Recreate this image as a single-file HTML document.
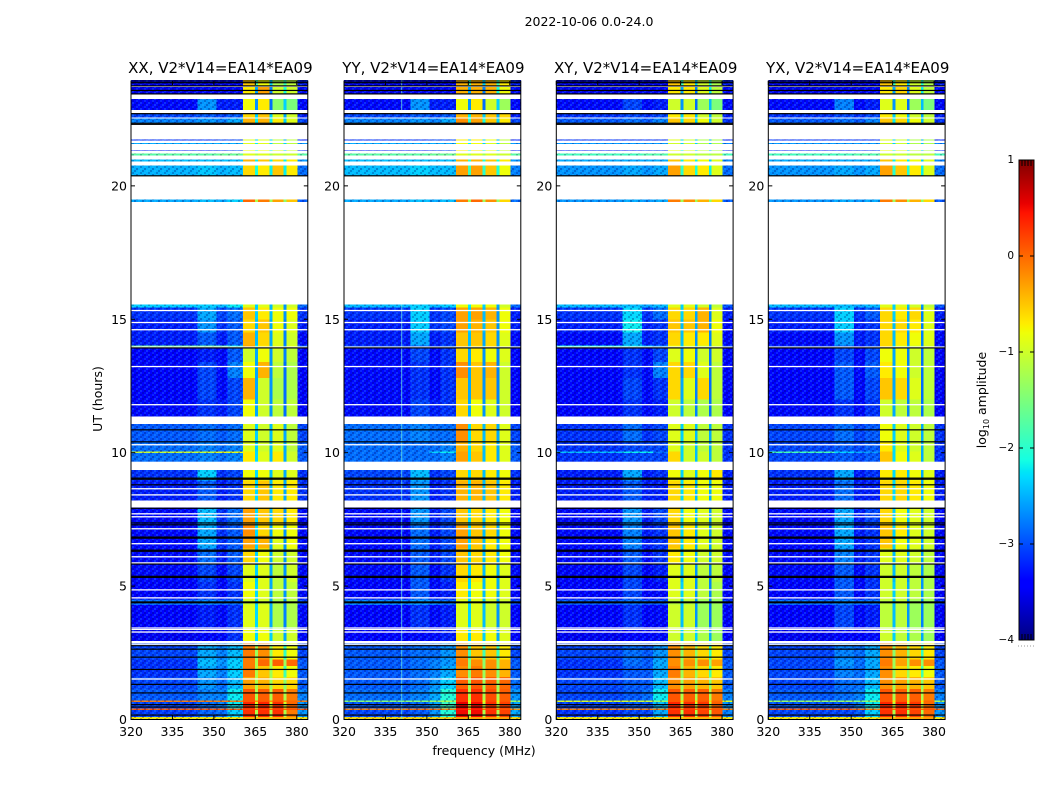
<!DOCTYPE html>
<html lang="en">
<head>
<meta charset="utf-8">
<title>2022-10-06 0.0-24.0</title>
<style>
html,body{margin:0;padding:0;background:#fff}
svg{display:block}
text{font-family:"DejaVu Sans","Liberation Sans",sans-serif;fill:#000}
</style>
</head>
<body>
<svg id="figure" xmlns="http://www.w3.org/2000/svg" width="1050" height="800" viewBox="0 0 1050 800">
<defs>
<pattern id="speckle" width="8" height="6" patternUnits="userSpaceOnUse">
<rect x="0" y="0" width="2" height="2" fill="#000060" opacity=".3"/>
<rect x="4" y="0" width="2" height="2" fill="#40d0ff" opacity=".2"/>
<rect x="2" y="2" width="2" height="2" fill="#40d0ff" opacity=".22"/>
<rect x="6" y="2" width="2" height="2" fill="#000060" opacity=".28"/>
<rect x="0" y="4" width="2" height="2" fill="#40d0ff" opacity=".16"/>
<rect x="4" y="4" width="2" height="2" fill="#000060" opacity=".25"/>
</pattern>
<linearGradient id="jet-gradient" x1="0" y1="1" x2="0" y2="0"></linearGradient>
</defs>
<text x="589" y="26" font-size="12.5" text-anchor="middle">2022-10-06 0.0-24.0</text>
<text x="484" y="755" font-size="12.5" text-anchor="middle">frequency (MHz)</text>
<text x="102" y="399" font-size="12.5" text-anchor="middle" transform="rotate(-90 102 399)">UT (hours)</text>
<text x="986" y="400" font-size="12.5" text-anchor="middle" transform="rotate(-90 986 400)">log<tspan font-size="8" dy="3">10</tspan><tspan dy="-3"> amplitude</tspan></text>
<g id="panels"></g>
<g id="colorbar"></g>
</svg>
<script>
// ---- data ----
const panelNames = ["XX", "YY", "XY", "YX"];
const baselineLabel = "V2*V14=EA14*EA09";
const xTickValues = [320, 335, 350, 365, 380];
const yTickValues = [0, 5, 10, 15, 20];
const colorbarTicks = [1, 0, -1, -2, -3, -4];

// frequency channel-group edges (MHz)
const freqEdges = [320, 344, 351, 355, 360.5, 364.9, 366, 370.2, 371.2, 375.2, 376.2, 380.2, 384];
// time sample ranges (UT hours)
const rowStarts = [0, 0.1, 0.35, 0.42, 0.65, 0.72, 1.15, 1.6, 2, 2.25, 2.95, 3.4, 4.3, 4.5, 5.15, 5.8, 6.4, 6.9, 7.3, 8.2, 8.95, 9.62, 9.98, 10.04, 10.4, 11.35, 12, 12.8, 13.4, 13.95, 14.02, 14.5, 15, 15.45, 19.39, 20.39, 20.92, 21.13, 21.3, 21.56, 21.7, 22.35, 22.57, 22.84, 23.46, 23.73];
const rowEnds = [0.1, 0.35, 0.42, 0.65, 0.72, 1.15, 1.6, 2, 2.25, 2.85, 3.35, 4.3, 4.5, 5.15, 5.8, 6.4, 6.9, 7.3, 7.95, 8.95, 9.35, 9.98, 10.04, 10.4, 11.08, 12, 12.8, 13.4, 13.95, 14.02, 14.5, 15, 15.45, 15.55, 19.49, 20.77, 20.99, 21.22, 21.33, 21.6, 21.74, 22.53, 22.69, 23.25, 23.7, 23.97];

// log10 amplitude, one row per time range, one value per channel group
const levelsXX = [
[-0.7,-0.7,-0.7,-0.7,-0.4,-0.5,-0.4,-0.5,-0.4,-0.5,-0.4,-0.7],
[-3.1,-2.9,-2.85,-2.35,0.3,-1.2,0.3,-1.2,0.3,-1.2,-0.1,-2.65],
[0.1,0.1,0.1,0.1,0.2,0,0.2,0,0.2,0,0.1,0.1],
[-3.05,-2.85,-2.75,-2.2,0.35,-1,0.35,-1,0.3,-1,0,-2.65],
[-0.1,-0.1,-0.1,-0.1,0.1,-0.2,0.1,-0.2,0.1,-0.2,0,-0.1],
[-2.95,-2.75,-2.75,-2.2,0.1,-1.2,0.05,-1.2,0.05,-1.2,-0.1,-2.75],
[-3.05,-2.65,-2.85,-2.45,-0.3,-1.2,-0.4,-1.3,-0.6,-1.4,-0.6,-2.95],
[-3.15,-2.55,-2.75,-2.35,-0.1,-1.2,-0.5,-1.3,-0.7,-1.85,-0.8,-2.95],
[-3.15,-2.45,-2.65,-2.35,-0.1,-1.2,0,-1.2,0.05,-1.3,0,-2.95],
[-3.05,-2.55,-2.75,-2.45,-0.1,-1.3,-0.2,-1.4,-0.7,-1.95,-0.8,-3.05],
[-3.5,-3.4,-3.35,-3.15,-0.8,-2.3,-0.8,-2.35,-1.0,-2.55,-1.0,-3.35],
[-3.4,-3.25,-3.35,-3.15,-0.9,-2.3,-0.9,-2.55,-1.2,-2.75,-1.2,-3.35],
[-2.85,-2.75,-2.85,-2.85,-1.0,-2.35,-1.0,-2.55,-1.2,-2.75,-1.2,-3.05],
[-3.4,-3.15,-3.35,-3.15,-0.8,-2.3,-0.9,-2.55,-1.1,-2.65,-1.1,-3.35],
[-3.35,-3.05,-3.35,-3.05,-0.9,-2.35,-0.9,-2.55,-1.1,-2.65,-1.0,-3.35],
[-3.35,-2.85,-3.25,-2.95,-0.6,-2.35,-0.8,-2.55,-1.0,-2.65,-1.0,-3.35],
[-3.35,-2.55,-3.15,-2.95,-0.3,-2.35,-0.4,-2.55,-0.9,-2.65,-0.8,-3.35],
[-3.35,-2.55,-3.15,-2.95,-0.2,-2.3,-0.6,-2.55,-0.8,-2.65,-0.8,-3.35],
[-3.35,-2.45,-3.15,-2.85,-0.3,-2.3,-0.5,-2.45,-0.6,-2.65,-0.7,-3.35],
[-3.25,-2.95,-3.25,-3.15,-0.6,-2.3,-0.5,-2.45,-0.7,-2.55,-0.7,-3.15],
[-3.15,-2.35,-3.15,-3.05,-0.8,-2.3,-0.8,-2.45,-0.9,-2.55,-0.9,-3.15],
[-2.85,-2.75,-2.85,-2.75,-0.7,-2.3,-0.9,-2.45,-0.7,-2.55,-1.0,-2.95],
[-1.0,-1.0,-0.8,-0.8,-0.7,-2.3,-0.9,-2.45,-0.7,-2.55,-1.0,-2.95],
[-2.85,-2.75,-2.85,-2.75,-0.9,-2.35,-1.0,-2.45,-0.9,-2.55,-1.1,-2.95],
[-2.95,-2.85,-2.95,-2.85,-0.9,-2.35,-1.0,-2.45,-0.9,-2.55,-1.1,-3.05],
[-3.35,-3.15,-3.25,-3.05,-0.8,-2.55,-1.0,-2.65,-1.1,-2.85,-1.1,-3.4],
[-3.4,-3.05,-3.35,-3.05,-0.4,-2.55,-1.0,-2.65,-1.2,-2.85,-1.2,-3.4],
[-3.4,-3.05,-3.35,-2.75,-0.8,-2.55,-0.4,-2.65,-1.1,-2.85,-1.2,-3.4],
[-3.4,-3.25,-3.35,-2.95,-1.0,-2.55,-0.8,-2.65,-1.0,-2.75,-1.1,-3.4],
[-1.6,-1.6,-1.7,-2.1,-0.3,-2.1,-0.7,-2.45,-0.9,-2.65,-0.9,-2.85],
[-3.25,-2.95,-3.25,-2.95,-0.4,-2.45,-0.6,-2.55,-0.9,-2.75,-1.0,-3.35],
[-3.25,-2.65,-3.15,-2.95,-0.6,-2.45,-0.5,-2.55,-0.8,-2.75,-0.9,-3.25],
[-3.15,-2.55,-3.05,-2.85,-0.5,-2.35,-0.7,-2.45,-0.8,-2.65,-0.8,-3.15],
[-2.35,-2.35,-2.45,-2.2,-0.9,-2.35,-0.9,-2.45,-1.0,-2.65,-1.0,-2.85],
[-2.55,-2.45,-2.55,-2.35,0,-1.2,-0.1,-1.3,-0.3,-1.4,-0.5,-2.95],
[-2.5,-2.4,-2.5,-2.45,-0.6,-2.1,-0.7,-2.2,-0.5,-2.2,-0.7,-2.85],
[-2.45,-2.45,-2.45,-2.45,-0.4,-2.2,-0.5,-2.2,-0.6,-2.2,-0.7,-2.65],
[-1.7,-1.7,-1.6,-1.6,-0.9,-1.2,-0.9,-1.3,-1.0,-1.2,-1.0,-1.7],
[-3.25,-3.25,-3.15,-3.05,-0.8,-2.1,-0.8,-2.2,-0.9,-2.35,-1.0,-3.25],
[-2.55,-2.55,-2.55,-2.55,-0.9,-2.2,-0.9,-2.35,-1.1,-2.35,-1.1,-2.65],
[-3.15,-3.15,-3.05,-3.05,-0.9,-2.35,-0.9,-2.35,-1.1,-2.55,-1.1,-3.25],
[-2.75,-2.65,-2.75,-2.55,-0.4,-2.2,-0.4,-2.2,-0.7,-2.35,-0.9,-3.05],
[-3.05,-2.95,-3.05,-2.95,-0.6,-2.35,-0.5,-2.35,-0.9,-2.55,-1.0,-3.25],
[-3.35,-2.65,-3.25,-3.25,-0.8,-2.65,-0.7,-2.85,-1.4,-2.35,-1.5,-3.35],
[-3.5,-3.4,-3.5,-3.4,-0.7,-2.55,-0.3,-2.75,-1.0,-2.1,-1.0,-3.35],
[-3.5,-3.5,-3.5,-3.4,-0.5,-1.85,-0.8,-2.35,-1.2,-1.9,-1.1,-3.25]
];
const levelsYY = [
[-0.6,-0.6,-0.6,-0.6,-0.3,-0.5,-0.3,-0.5,-0.3,-0.5,-0.3,-0.6],
[-3.05,-2.95,-2.65,-2.05,0.5,-1.2,0.5,-1.2,0.3,-1.2,0.2,-2.55],
[-0.1,0,0,-0.1,0.4,0,0.4,0,0.2,0,0.1,-0.2],
[-2.95,-2.85,-2.55,-1.9,0.55,-1.1,0.5,-1.1,0.3,-1.1,0.2,-2.55],
[-1.4,-1.4,-1.3,-1.2,0.3,-0.8,0.3,-0.8,0.2,-0.8,0.1,-1.3],
[-2.85,-2.75,-2.55,-2.05,0.3,-1.2,0.3,-1.2,0.15,-1.2,0.05,-2.65],
[-2.95,-2.85,-2.65,-2.35,0.05,-1.3,0.1,-1.3,0.05,-1.3,0,-2.85],
[-2.95,-2.85,-2.75,-2.55,-0.2,-1.4,-0.1,-1.3,-0.2,-1.4,-0.4,-2.95],
[-2.95,-2.85,-2.75,-2.65,-0.1,-1.4,-0.2,-1.4,-0.2,-1.4,-0.4,-2.95],
[-2.95,-2.85,-2.85,-2.65,-0.2,-1.85,-0.5,-1.85,-0.5,-1.95,-0.7,-3.05],
[-3.4,-3.35,-3.35,-3.25,-0.7,-2.35,-0.7,-2.35,-0.8,-2.55,-0.9,-3.4],
[-3.4,-3.15,-3.35,-3.25,-0.9,-2.35,-0.9,-2.45,-1.0,-2.65,-1.0,-3.4],
[-2.75,-2.65,-2.75,-2.85,-0.9,-2.35,-0.9,-2.45,-1.0,-2.55,-1.0,-3.05],
[-3.4,-2.95,-3.35,-3.25,-0.7,-2.35,-0.8,-2.45,-0.8,-2.55,-0.9,-3.4],
[-3.35,-2.95,-3.35,-3.15,-0.6,-2.35,-0.7,-2.45,-0.8,-2.55,-0.9,-3.35],
[-3.35,-2.95,-3.25,-3.05,-0.5,-2.35,-0.6,-2.45,-0.7,-2.55,-0.8,-3.35],
[-3.35,-2.85,-3.25,-3.05,-0.3,-2.35,-0.5,-2.45,-0.7,-2.55,-0.8,-3.35],
[-3.35,-2.85,-3.25,-3.05,-0.3,-2.3,-0.5,-2.45,-0.6,-2.55,-0.8,-3.35],
[-3.35,-2.65,-3.25,-3.05,-0.5,-2.3,-0.6,-2.45,-0.7,-2.55,-0.8,-3.35],
[-3.15,-2.65,-3.25,-3.15,-0.4,-2.3,-0.4,-2.45,-0.5,-2.55,-0.7,-3.25],
[-3.05,-2.45,-3.15,-3.05,-0.6,-2.3,-0.6,-2.45,-0.7,-2.55,-0.8,-3.15],
[-2.85,-2.85,-2.85,-2.75,-0.3,-2.3,-0.5,-2.45,-0.7,-2.55,-0.9,-2.95],
[-2.85,-2.85,-2.35,-2.2,-0.3,-2.3,-0.5,-2.45,-0.7,-2.55,-0.9,-2.95],
[-2.85,-2.85,-2.85,-2.75,-0.4,-2.3,-0.6,-2.45,-0.7,-2.55,-0.9,-2.95],
[-2.85,-2.75,-2.85,-2.85,-0.2,-2.3,-0.6,-2.45,-0.6,-2.55,-0.9,-3.05],
[-3.35,-3.05,-3.25,-3.15,-0.6,-2.55,-0.8,-2.65,-0.9,-2.75,-1.0,-3.4],
[-3.35,-3.15,-3.35,-3.15,-0.5,-2.55,-0.5,-2.65,-0.5,-2.75,-1.0,-3.4],
[-3.35,-3.15,-3.35,-3.15,-0.2,-2.55,-0.5,-2.65,-0.4,-2.75,-1.0,-3.4],
[-3.35,-3.05,-3.35,-3.15,-0.6,-2.55,-0.7,-2.65,-0.8,-2.75,-0.9,-3.4],
[-3.05,-2.95,-3.15,-2.95,-0.5,-2.35,-0.6,-2.45,-0.6,-2.65,-0.9,-3.15],
[-3.25,-2.55,-3.25,-3.15,-0.5,-2.45,-0.5,-2.55,-0.6,-2.65,-0.9,-3.35],
[-3.25,-2.35,-3.15,-3.05,-0.3,-2.35,-0.4,-2.45,-0.5,-2.65,-0.8,-3.25],
[-3.15,-2.35,-3.15,-3.05,-0.3,-2.35,-0.3,-2.45,-0.4,-2.65,-0.8,-3.25],
[-2.45,-2.35,-2.45,-2.35,-0.8,-2.2,-0.8,-2.35,-0.8,-2.55,-1.0,-2.85],
[-2.55,-2.45,-2.55,-2.45,-0.1,-1.3,0,-1.3,-0.2,-1.4,-0.6,-2.85],
[-2.45,-2.35,-2.45,-2.45,-0.3,-1.9,-0.3,-2.0,-0.5,-2.1,-0.8,-2.75],
[-2.45,-2.45,-2.45,-2.45,-0.4,-2.0,-0.4,-2.1,-0.5,-2.1,-0.7,-2.65],
[-1.7,-1.7,-1.6,-1.6,-0.9,-1.2,-0.9,-1.3,-0.9,-1.2,-1.0,-1.7],
[-3.25,-3.25,-3.15,-3.05,-0.7,-2.1,-0.7,-2.2,-0.8,-2.35,-1.0,-3.25],
[-2.55,-2.55,-2.55,-2.55,-0.8,-2.2,-0.8,-2.35,-0.9,-2.35,-1.1,-2.65],
[-3.15,-3.15,-3.05,-3.05,-0.7,-2.35,-0.7,-2.35,-0.8,-2.55,-1.1,-3.25],
[-2.75,-2.65,-2.75,-2.55,-0.2,-2.0,-0.3,-2.1,-0.5,-2.35,-0.7,-3.05],
[-3.05,-2.95,-3.05,-2.95,-0.4,-2.2,-0.4,-2.35,-0.5,-2.55,-0.6,-3.25],
[-3.35,-2.65,-3.25,-3.25,-0.8,-2.65,-0.7,-2.85,-1.0,-2.35,-1.3,-3.35],
[-3.5,-3.4,-3.5,-3.4,-0.4,-2.55,-0.4,-2.75,-0.4,-2.1,-0.8,-3.35],
[-3.5,-3.5,-3.5,-3.4,-0.4,-1.85,-0.4,-2.35,-0.4,-1.9,-0.7,-3.25]
];
const levelsXY = [
[-0.7,-0.7,-0.7,-0.7,-0.4,-0.5,-0.4,-0.5,-0.4,-0.5,-0.4,-0.7],
[-3.15,-3.05,-3.05,-2.55,0.3,-1.2,0.3,-1.2,0.2,-1.2,0.1,-2.75],
[-0.1,-0.1,-0.1,-0.1,0.2,0,0.2,0,0.1,0,0.1,-0.1],
[-3.05,-2.95,-2.95,-2.45,0.35,-1.1,0.3,-1.1,0.25,-1.1,0.05,-2.65],
[-0.9,-0.9,-1.0,-1.3,0.1,-0.6,0.1,-0.6,0.1,-0.6,0,-0.9],
[-3.05,-2.95,-2.85,-2.2,0.1,-1.2,0.05,-1.2,0.05,-1.2,-0.1,-2.75],
[-3.05,-2.95,-2.95,-2.45,-0.2,-1.3,-0.3,-1.3,-0.4,-1.4,-0.5,-2.95],
[-3.15,-2.95,-2.95,-2.55,-0.1,-1.3,-0.4,-1.3,-0.6,-1.85,-0.7,-2.95],
[-3.15,-2.85,-2.95,-2.55,-0.2,-1.3,-0.2,-1.3,-0.2,-1.4,-0.3,-2.95],
[-3.05,-2.85,-2.95,-2.65,-0.2,-1.4,-0.4,-1.4,-0.6,-1.95,-0.7,-3.05],
[-3.5,-3.4,-3.4,-3.35,-1.0,-2.35,-1.0,-2.35,-1.2,-2.55,-1.3,-3.4],
[-3.4,-3.15,-3.4,-3.35,-1.0,-2.45,-1.0,-2.65,-1.3,-2.85,-1.3,-3.4],
[-2.95,-2.85,-2.95,-2.95,-1.1,-2.45,-1.1,-2.65,-1.3,-2.85,-1.3,-3.15],
[-3.4,-3.05,-3.4,-3.35,-0.9,-2.35,-0.9,-2.65,-1.1,-2.75,-1.2,-3.4],
[-3.4,-3.05,-3.4,-3.25,-0.9,-2.45,-0.9,-2.65,-1.1,-2.75,-1.1,-3.4],
[-3.35,-2.95,-3.35,-3.15,-0.7,-2.45,-0.8,-2.55,-1.0,-2.65,-1.0,-3.35],
[-3.35,-2.75,-3.25,-3.15,-0.5,-2.35,-0.7,-2.55,-0.9,-2.65,-1.0,-3.35],
[-3.35,-2.75,-3.25,-3.15,-0.5,-2.35,-0.7,-2.55,-0.9,-2.65,-1.0,-3.35],
[-3.35,-2.65,-3.25,-3.05,-0.6,-2.35,-0.8,-2.45,-0.9,-2.65,-1.0,-3.35],
[-3.25,-2.95,-3.25,-3.25,-0.6,-2.3,-0.7,-2.45,-0.8,-2.55,-0.8,-3.25],
[-3.25,-2.55,-3.25,-3.15,-0.8,-2.35,-0.9,-2.45,-0.8,-2.55,-0.7,-3.25],
[-3.15,-3.05,-3.05,-3.05,-0.6,-2.35,-1.0,-2.45,-1.0,-2.55,-1.1,-3.15],
[-2.45,-2.2,-2.2,-2.85,-0.6,-2.35,-1.0,-2.45,-1.0,-2.55,-1.1,-3.15],
[-3.15,-3.05,-3.05,-3.05,-0.9,-2.35,-1.0,-2.45,-1.1,-2.55,-1.1,-3.15],
[-3.15,-2.85,-3.15,-3.05,-0.9,-2.35,-0.9,-2.45,-1.1,-2.55,-1.1,-3.15],
[-3.4,-3.15,-3.35,-3.25,-1.0,-2.55,-1.1,-2.75,-1.2,-2.85,-1.2,-3.4],
[-3.4,-3.05,-3.35,-3.15,-0.6,-2.55,-0.9,-2.75,-0.6,-2.85,-1.1,-3.4],
[-3.4,-3.15,-3.35,-2.75,-0.6,-2.65,-0.6,-2.75,-0.9,-2.85,-1.1,-3.4],
[-3.4,-3.15,-3.35,-3.05,-0.9,-2.65,-0.8,-2.75,-1.0,-2.85,-1.0,-3.4],
[-2.1,-2.2,-2.35,-2.65,-0.8,-2.35,-0.9,-2.45,-1.0,-2.65,-1.0,-3.05],
[-3.35,-2.55,-3.25,-3.15,-0.6,-2.45,-0.7,-2.65,-0.7,-2.75,-0.9,-3.35],
[-3.25,-2.2,-3.25,-3.15,-0.5,-2.45,-0.5,-2.55,-0.4,-2.75,-0.8,-3.35],
[-3.15,-2.3,-3.15,-2.85,-0.6,-2.35,-0.6,-2.55,-0.4,-2.75,-0.9,-3.25],
[-2.45,-2.45,-2.55,-2.45,-0.9,-2.35,-0.9,-2.45,-1.0,-2.65,-1.1,-2.95],
[-2.65,-2.55,-2.65,-2.55,-0.1,-1.3,-0.2,-1.3,-0.4,-1.4,-0.6,-2.95],
[-2.65,-2.55,-2.65,-2.55,-0.3,-2.0,-0.6,-2.1,-0.7,-2.2,-0.9,-2.85],
[-2.55,-2.55,-2.55,-2.55,-0.5,-2.2,-0.7,-2.2,-0.8,-2.35,-0.9,-2.75],
[-1.85,-1.85,-1.75,-1.75,-1.0,-1.3,-1.0,-1.4,-1.1,-1.3,-1.1,-1.85],
[-3.25,-3.25,-3.15,-3.15,-0.8,-2.2,-0.9,-2.35,-1.1,-2.45,-1.2,-3.25],
[-2.65,-2.65,-2.65,-2.65,-1.0,-2.35,-1.0,-2.35,-1.2,-2.45,-1.2,-2.75],
[-3.15,-3.15,-3.15,-3.15,-0.9,-2.35,-1.0,-2.45,-1.2,-2.55,-1.2,-3.25],
[-2.95,-2.85,-2.95,-2.75,-0.5,-2.2,-0.6,-2.35,-0.8,-2.45,-1.0,-3.15],
[-3.15,-3.05,-3.15,-3.05,-0.7,-2.35,-0.7,-2.45,-1.0,-2.55,-1.1,-3.25],
[-3.35,-3.05,-3.35,-3.25,-1.0,-2.65,-1.0,-2.85,-1.3,-2.45,-1.5,-3.35],
[-3.5,-3.4,-3.5,-3.4,-0.7,-2.55,-0.7,-2.75,-0.9,-2.2,-1.1,-3.35],
[-3.5,-3.5,-3.5,-3.4,-0.5,-1.95,-0.7,-2.35,-1.0,-2.05,-1.2,-3.25]
];
const levelsYX = [
[-0.7,-0.7,-0.7,-0.7,-0.3,-0.5,-0.3,-0.5,-0.3,-0.5,-0.3,-0.7],
[-3.05,-3.05,-2.95,-2.35,0.3,-1.2,0.3,-1.2,0.2,-1.2,0,-2.65],
[0.1,0.1,0,-0.1,0.2,0,0.2,0,0.1,0,0.1,0],
[-2.95,-2.95,-2.75,-2.2,0.35,-1.1,0.35,-1.1,0.25,-1.1,0,-2.65],
[-1.3,-1.3,-1.4,-1.3,0.1,-0.7,0.1,-0.7,0.1,-0.7,0,-1.2],
[-2.95,-2.85,-2.75,-2.2,0.1,-1.2,0.05,-1.2,0.05,-1.2,-0.1,-2.75],
[-3.05,-2.85,-2.85,-2.45,-0.2,-1.3,-0.3,-1.3,-0.4,-1.4,-0.5,-2.95],
[-3.05,-2.75,-2.85,-2.55,-0.2,-1.3,-0.6,-1.3,-0.7,-1.85,-0.8,-2.95],
[-3.05,-2.65,-2.85,-2.55,-0.1,-1.3,-0.3,-1.3,-0.2,-1.4,-0.2,-2.95],
[-3.05,-2.75,-2.85,-2.55,-0.2,-1.4,-0.4,-1.4,-0.6,-1.95,-0.7,-3.05],
[-3.5,-3.4,-3.4,-3.35,-1.0,-2.35,-1.1,-2.45,-1.2,-2.55,-1.3,-3.4],
[-3.4,-3.05,-3.35,-3.25,-1.1,-2.45,-1.1,-2.65,-1.3,-2.75,-1.3,-3.4],
[-2.85,-2.75,-2.85,-2.85,-1.1,-2.45,-1.1,-2.65,-1.3,-2.75,-1.3,-3.15],
[-3.4,-2.95,-3.35,-3.15,-1.0,-2.35,-1.0,-2.55,-1.1,-2.65,-1.2,-3.4],
[-3.35,-2.95,-3.35,-3.15,-1.0,-2.45,-1.0,-2.65,-1.1,-2.65,-1.2,-3.35],
[-3.35,-2.75,-3.25,-3.15,-0.9,-2.45,-0.9,-2.55,-1.0,-2.65,-1.1,-3.35],
[-3.35,-2.55,-3.25,-3.15,-0.5,-2.35,-0.8,-2.55,-0.9,-2.65,-1.0,-3.35],
[-3.35,-2.55,-3.25,-3.15,-0.5,-2.35,-0.7,-2.55,-0.9,-2.65,-1.0,-3.35],
[-3.35,-2.55,-3.25,-3.05,-0.6,-2.35,-0.8,-2.45,-0.9,-2.65,-1.0,-3.35],
[-3.25,-2.85,-3.25,-3.25,-0.6,-2.3,-0.6,-2.45,-0.7,-2.55,-0.8,-3.25],
[-3.15,-2.55,-3.25,-3.15,-0.7,-2.3,-0.7,-2.45,-0.8,-2.55,-0.9,-3.25],
[-3.05,-2.95,-3.05,-2.95,-0.5,-2.3,-0.8,-2.45,-0.9,-2.55,-1.1,-3.15],
[-1.85,-2.35,-2.55,-2.65,-0.5,-2.3,-0.8,-2.45,-0.9,-2.55,-1.1,-3.15],
[-3.05,-2.95,-3.05,-2.95,-0.7,-2.3,-0.9,-2.45,-1.0,-2.55,-1.1,-3.15],
[-3.05,-2.85,-3.05,-2.95,-0.8,-2.35,-0.9,-2.45,-1.0,-2.55,-1.1,-3.15],
[-3.35,-3.15,-3.35,-3.15,-1.0,-2.55,-1.1,-2.75,-1.1,-2.85,-1.2,-3.4],
[-3.4,-2.95,-3.35,-3.05,-0.5,-2.55,-0.6,-2.75,-0.9,-2.85,-1.1,-3.4],
[-3.4,-2.95,-3.35,-2.95,-0.7,-2.55,-0.8,-2.75,-1.0,-2.85,-1.1,-3.4],
[-3.4,-3.05,-3.35,-3.05,-0.8,-2.55,-0.8,-2.75,-1.0,-2.85,-1.1,-3.4],
[-3.15,-2.95,-3.25,-3.05,-0.6,-2.35,-0.9,-2.45,-1.0,-2.65,-1.0,-3.25],
[-3.35,-2.65,-3.25,-3.15,-0.6,-2.45,-0.7,-2.65,-0.8,-2.75,-0.9,-3.35],
[-3.25,-2.35,-3.25,-3.15,-0.6,-2.45,-0.6,-2.55,-0.7,-2.75,-0.9,-3.35],
[-3.15,-2.35,-3.15,-2.95,-0.6,-2.35,-0.7,-2.55,-0.6,-2.75,-0.9,-3.25],
[-2.45,-2.45,-2.55,-2.45,-0.9,-2.35,-0.9,-2.45,-1.0,-2.65,-1.1,-2.95],
[-2.65,-2.55,-2.65,-2.55,-0.1,-1.3,-0.2,-1.3,-0.4,-1.4,-0.6,-2.95],
[-2.65,-2.55,-2.65,-2.55,-0.3,-2.0,-0.5,-2.1,-0.7,-2.2,-0.9,-2.85],
[-2.55,-2.55,-2.55,-2.55,-0.5,-2.2,-0.7,-2.2,-0.8,-2.35,-0.9,-2.75],
[-1.85,-1.85,-1.75,-1.75,-1.0,-1.3,-1.0,-1.4,-1.1,-1.3,-1.1,-1.85],
[-3.25,-3.25,-3.15,-3.15,-0.8,-2.2,-0.9,-2.35,-1.1,-2.45,-1.2,-3.25],
[-2.65,-2.65,-2.65,-2.65,-1.0,-2.35,-1.0,-2.35,-1.2,-2.45,-1.2,-2.75],
[-3.15,-3.15,-3.15,-3.15,-0.9,-2.35,-1.0,-2.45,-1.2,-2.55,-1.2,-3.25],
[-2.95,-2.85,-2.95,-2.75,-0.5,-2.2,-0.6,-2.35,-0.8,-2.45,-1.0,-3.15],
[-3.15,-3.05,-3.15,-3.05,-0.7,-2.35,-0.8,-2.45,-1.0,-2.55,-1.1,-3.25],
[-3.35,-2.75,-3.35,-3.25,-0.9,-2.65,-0.9,-2.85,-1.3,-2.45,-1.5,-3.35],
[-3.5,-3.4,-3.5,-3.4,-0.7,-2.55,-0.6,-2.75,-0.9,-2.2,-1.1,-3.35],
[-3.5,-3.5,-3.5,-3.4,-0.5,-1.95,-0.7,-2.35,-1.0,-2.05,-1.2,-3.25]
];
const panelLevels = [levelsXX, levelsYY, levelsXY, levelsYX];

// flagged single integrations (UT hours)
const whiteLineHours = [1.52, 2.8, 2.87, 3.28, 3.43, 4.56, 4.86, 5.87, 6.1, 6.59, 7.15, 7.6, 7.71, 8.42, 8.65, 9.64, 10.3, 11.8, 13.23, 13.96, 14.61, 14.88, 15.33];
const blackLineHours = [0.17, 0.47, 0.56, 1, 1.32, 1.88, 2.34, 2.64, 2.77, 4.38, 4.41, 5.33, 5.37, 5.83, 6.31, 6.35, 6.8, 6.84, 7.3, 7.37, 7.92, 8.8, 9.01, 9.05, 10.41, 10.86, 13.93, 20.38, 22.31, 22.35, 22.71, 23.45, 23.58, 23.75, 23.87];
// narrow-band interference visible in individual panels (MHz)
const spursXX = [];
const spursYY = [340.7];
const spursXY = [];
const spursYX = [];
const panelSpurs = [spursXX, spursYY, spursXY, spursYX];

// jet colormap anchors
const jetR = [[0, 0], [0.35, 0], [0.66, 1], [0.89, 1], [1, 0.5]];
const jetG = [[0, 0], [0.125, 0], [0.375, 1], [0.64, 1], [0.91, 0], [1, 0]];
const jetB = [[0, 0.5], [0.11, 1], [0.34, 1], [0.65, 0], [1, 0]];

// ---- scales ----
const SVGNS = "http://www.w3.org/2000/svg";
const panelLefts = [131, 344, 556.3, 768.3];
const panelWidth = 176.8;
const panelTop = 81;
const panelBottom = 719.5;
const xMin = 320, xMax = 384, yMin = 0, yMax = 23.93;
const cbLeft = 1019, cbRight = 1034, cbTop = 160, cbBottom = 640, cbMin = -4, cbMax = 1;

function xScale(panel, mhz) {
  return panelLefts[panel] + (mhz - xMin) / (xMax - xMin) * panelWidth;
}
function yScale(hour) {
  return panelBottom - (hour - yMin) / (yMax - yMin) * (panelBottom - panelTop);
}
function cbScale(v) {
  return cbBottom - (v - cbMin) / (cbMax - cbMin) * (cbBottom - cbTop);
}
function interp(anchors, t) {
  for (let i = 1; i < anchors.length; i++) {
    if (t <= anchors[i][0]) {
      const a = anchors[i - 1], b = anchors[i];
      return a[1] + (b[1] - a[1]) * (t - a[0]) / (b[0] - a[0]);
    }
  }
  return anchors[anchors.length - 1][1];
}
function jet(level) {
  const t = Math.max(0, Math.min(1, (level - cbMin) / (cbMax - cbMin)));
  const r = Math.round(255 * interp(jetR, t));
  const g = Math.round(255 * interp(jetG, t));
  const b = Math.round(255 * interp(jetB, t));
  return "rgb(" + r + "," + g + "," + b + ")";
}
function make(tag, attrs, parent) {
  const el = document.createElementNS(SVGNS, tag);
  for (const k in attrs) el.setAttribute(k, attrs[k]);
  parent.appendChild(el);
  return el;
}
function tickLine(parent, x1, y1, x2, y2, name) {
  const el = make("line", {x1: x1, y1: y1, x2: x2, y2: y2, stroke: "#000", "stroke-width": 1}, parent);
  
  
  return el;
}

// ---- panels ----
const panelsGroup = document.getElementById("panels");
panelNames.forEach(function (name, p) {
  const g = make("g", {}, panelsGroup);
  
  

  const left = panelLefts[p], right = left + panelWidth;
  const bg = make("rect", {x: left, y: panelTop, width: panelWidth, height: panelBottom - panelTop, fill: "#fff"}, g);
  
  

  const levels = panelLevels[p];
  const spurs = panelSpurs[p];
  const bandLeft = xScale(p, freqEdges[4]);
  const bandRight = xScale(p, freqEdges[11]);
  rowStarts.forEach(function (start, r) {
    const yTop = yScale(rowEnds[r]);
    const yBot = yScale(start);
    for (let c = 0; c < freqEdges.length - 1; c++) {
      const x0 = xScale(p, freqEdges[c]);
      const x1 = xScale(p, freqEdges[c + 1]);
      const cell = make("rect", {x: x0.toFixed(2), y: yTop.toFixed(2), width: (x1 - x0).toFixed(2), height: (yBot - yTop).toFixed(2), fill: jet(levels[r][c]), "shape-rendering": "crispEdges"}, g);
      
      
    }
    const speckLeft = make("rect", {x: left, y: yTop.toFixed(2), width: (bandLeft - left).toFixed(2), height: (yBot - yTop).toFixed(2), fill: "url(#speckle)", "shape-rendering": "crispEdges"}, g);
    
    
    const speckRight = make("rect", {x: bandRight.toFixed(2), y: yTop.toFixed(2), width: (right - bandRight).toFixed(2), height: (yBot - yTop).toFixed(2), fill: "url(#speckle)", "shape-rendering": "crispEdges"}, g);
    
    
    if (start < 15.5 || start > 22.8) {
      spurs.forEach(function (mhz) {
        const s = make("rect", {x: xScale(p, mhz).toFixed(2), y: yTop.toFixed(2), width: 1, height: (yBot - yTop).toFixed(2), fill: "#6fe8e0", opacity: 0.75}, g);
        
        
      });
    }
  });

  whiteLineHours.forEach(function (h) {
    const w = make("rect", {x: left, y: (yScale(h) - 0.6).toFixed(2), width: panelWidth, height: 1.3, fill: "#fff"}, g);
    
    
  });
  blackLineHours.forEach(function (h) {
    const b = make("rect", {x: left, y: (yScale(h) - 0.5).toFixed(2), width: panelWidth, height: 1.2, fill: "#000"}, g);
    
    
  });

  const frame = make("rect", {x: left, y: panelTop, width: panelWidth, height: panelBottom - panelTop, fill: "none", stroke: "#000", "stroke-width": 1}, g);
  
  

  xTickValues.forEach(function (v) {
    const x = xScale(p, v);
    tickLine(g, x, panelBottom, x, panelBottom - 4, 'x-tick');
    tickLine(g, x, panelTop, x, panelTop + 4, 'x-tick-top');
    const t = make("text", {x: x, y: 736, "font-size": 12.5, "text-anchor": "middle"}, g);
    t.textContent = String(v);
    
    
  });
  yTickValues.forEach(function (v) {
    const y = yScale(v);
    tickLine(g, left, y, left + 4, y, 'y-tick');
    tickLine(g, right, y, right - 4, y, 'y-tick-right');
    const t = make("text", {x: left - 4, y: y + 4.5, "font-size": 12.5, "text-anchor": "end"}, g);
    t.textContent = String(v);
    
    
  });

  const title = make("text", {x: left + panelWidth / 2 + 1, y: 73, "font-size": 15, "text-anchor": "middle"}, g);
  title.textContent = name + ", " + baselineLabel;
  
  
});

// ---- colorbar ----
const grad = document.getElementById("jet-gradient");
const gradStops = [];
[jetR, jetG, jetB].forEach(function (a) {
  a.forEach(function (pt) {
    if (gradStops.indexOf(pt[0]) < 0) gradStops.push(pt[0]);
  });
});
gradStops.sort(function (a, b) { return a - b; }).forEach(function (t) {
  const stop = make("stop", {offset: t, "stop-color": jet(cbMin + t * (cbMax - cbMin))}, grad);
  
  
});
const cb = document.getElementById("colorbar");
const cbRect = make("rect", {x: cbLeft, y: cbTop, width: cbRight - cbLeft, height: cbBottom - cbTop, fill: "url(#jet-gradient)", stroke: "#000", "stroke-width": 1}, cb);


colorbarTicks.forEach(function (v) {
  const y = cbScale(v);
  tickLine(cb, cbLeft, y, cbLeft + 4, y, 'colorbar-tick');
  tickLine(cb, cbRight, y, cbRight - 4, y, 'colorbar-tick-right');
  const t = make("text", {x: 1014, y: y + 3, "font-size": 10.5, "text-anchor": "end"}, cb);
  t.textContent = String(v).replace("-", "\u2212");
  
  
});
[1022, 1025, 1028, 1031].forEach(function (x) {
  [1, -4].forEach(function (v) {
    const y = cbScale(v);
    const dir = v > 0 ? 1 : -1;
    tickLine(cb, x, y, x, y + dir * 6, 'colorbar-minor-tick');
  });
});
const dots = make("line", {x1: 1018, y1: 646, x2: 1035, y2: 646, stroke: "#999", "stroke-width": 1, "stroke-dasharray": "1 2"}, cb);


</script>
</body>
</html>
